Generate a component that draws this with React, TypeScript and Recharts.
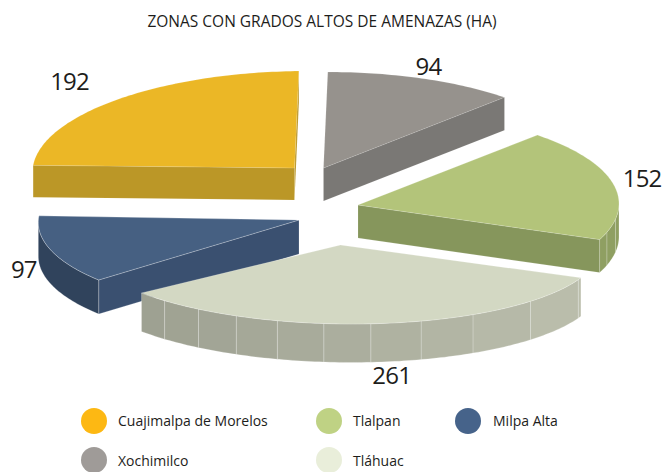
import { PieChart, Pie, Legend } from 'recharts';

const chartTitle = 'ZONAS CON GRADOS ALTOS DE AMENAZAS (HA)';

// slices start at Milpa Alta so that Tláhuac is painted last, on top of it
const zones = ['Milpa Alta', 'Cuajimalpa de Morelos', 'Xochimilco', 'Tlalpan', 'Tláhuac'];
const hectares = [97, 192, 94, 152, 261];
const legendZones = ['Cuajimalpa de Morelos', 'Tlalpan', 'Milpa Alta', 'Xochimilco', 'Tláhuac'];

const data = zones.map((name, i) => ({ name, value: hectares[i] }));

const PIE_START = -139.4;
const SHEAR = 0.04;

// how each slice is pulled out and tilted, plus its colours
const sliceStyle: Record<string, any> = {
  'Cuajimalpa de Morelos': {
    dx: -27.5, dy: -37, rScale: 1, squash: 0.37, tilt: -0.011, depth: 32,
    top: '#EBB726', cut: '#BB9727', rim: ['#BB9727', '#BB9727'], facets: [],
    label: [-48, -18.5], edge: 'rgba(255,255,255,0.2)',
  },
  Xochimilco: {
    dx: 1.5, dy: -37, rScale: 1.004, squash: 0.365, tilt: 0, depth: 33,
    top: '#96928D', cut: '#7A7875', rim: ['#7A7875', '#7A7875'], facets: [],
    label: [5.5, -12.6], edge: 'rgba(255,255,255,0.2)',
  },
  Tlalpan: {
    dx: 36, dy: 0, rScale: 0.996, squash: 0.364, tilt: 0, depth: 33,
    top: '#B3C47A', cut: '#86965C', rim: ['#8F9F62', '#8F9F62'], facets: [-8.6, -16.7],
    label: [29, -6], edge: 'rgba(255,255,255,0.3)',
  },
  'Tláhuac': {
    dx: 18.5, dy: 40, rScale: 0.99, squash: 0.304, tilt: 0.017, depth: 38.5,
    top: '#D3D8C3', cut: '#9EA192', rim: ['#9DA091', '#BCBFAD'],
    facets: [-22.9, -42.2, -58.6, -71.2, -82.6, -93, -103.4, -113, -122.5, -132],
    label: [11, 51], edge: 'rgba(255,255,255,0.35)',
  },
  'Milpa Alta': {
    dx: -23, dy: 15, rScale: 0.995, squash: 0.349, tilt: -0.004, depth: 34,
    top: '#466082', cut: '#3A5070', rim: ['#30435C', '#30435C'], facets: [],
    label: [-27, 18], edge: 'rgba(255,255,255,0.45)',
  },
};

const legendColor: Record<string, string> = {
  'Cuajimalpa de Morelos': '#FDB813',
  Tlalpan: '#BFD284',
  'Milpa Alta': '#46638A',
  Xochimilco: '#9F9B98',
  'Tláhuac': '#E9EEDA',
};

const legendSpot: Record<string, [number, number, number]> = {
  'Cuajimalpa de Morelos': [94, 421, 118],
  Tlalpan: [329, 421, 353],
  'Milpa Alta': [468, 421, 493],
  Xochimilco: [94, 460, 118],
  'Tláhuac': [329, 460, 353],
};

const RAD = Math.PI / 180;

function projector(cx: number, cy: number, radius: number, s: any) {
  const tipX = cx + s.dx;
  const tipY = cy + s.dy;
  const rx = radius * s.rScale;
  const ry = rx * s.squash;
  return (a: number) => ({
    x: tipX + rx * Math.cos(a * RAD) + SHEAR * ry * Math.sin(a * RAD),
    y: tipY - ry * Math.sin(a * RAD) + s.tilt * rx * Math.cos(a * RAD),
  });
}

const toPath = (pts: { x: number; y: number }[]) =>
  pts.map((p, i) => `${i ? 'L' : 'M'}${p.x.toFixed(2)} ${p.y.toFixed(2)}`).join(' ') + ' Z';

const mix = (a: string, b: string, t: number) => {
  const c = (h: string, i: number) => parseInt(h.slice(1 + i * 2, 3 + i * 2), 16);
  const parts = [0, 1, 2].map((i) => Math.round(c(a, i) + (c(b, i) - c(a, i)) * t));
  return `rgb(${parts.join(',')})`;
};

function Slice3D(props: any) {
  const { cx, cy, outerRadius, startAngle, endAngle, name, payload } = props;
  const s = sliceStyle[name ?? payload?.name];
  const at = projector(cx, cy, outerRadius, s);
  const tip = { x: cx + s.dx, y: cy + s.dy };
  const drop = (p: { x: number; y: number }) => ({ x: p.x, y: p.y + s.depth });

  const angles: number[] = [];
  for (let a = startAngle; a > endAngle; a -= 1) angles.push(a);
  angles.push(endAngle);
  const arc = angles.map(at);
  const first = arc[0];
  const last = arc[arc.length - 1];
  const xs = arc.map((p) => p.x);
  const minX = Math.min(...xs);
  const maxX = Math.max(...xs);

  // outer wall, split at the facet lines, only the part facing the viewer
  // (the pie runs past -360 degrees, so facet angles are shifted into the slice's turn)
  const inRange = s.facets
    .flatMap((f: number) => [f, f - 360, f - 720])
    .filter((f: number) => f < startAngle && f > endAngle)
    .sort((a: number, b: number) => b - a);
  const bounds = [startAngle, ...inRange, endAngle];
  const rimWalls: any[] = [];
  for (let b = 0; b < bounds.length - 1; b++) {
    const seg: number[] = [];
    for (let a = bounds[b]; a > bounds[b + 1]; a -= 1) seg.push(a);
    seg.push(bounds[b + 1]);
    const pts = seg.map(at);
    const front = pts.filter((p, i) => {
      const next = pts[i + 1];
      const prev = pts[i - 1];
      return (next && next.x < p.x) || (prev && p.x < prev.x);
    });
    if (front.length < 2) continue;
    const mid = front[Math.floor(front.length / 2)].x;
    const t = maxX > minX ? (mid - minX) / (maxX - minX) : 0;
    rimWalls.push(
      <path
        key={b}
        d={toPath([...front, ...front.slice().reverse().map(drop)])}
        fill={mix(s.rim[0], s.rim[1], t)}
        stroke={s.edge}
        strokeWidth={0.6}
      />
    );
  }

  // straight cut walls, drawn when they face the viewer
  const cuts: any[] = [];
  if (first.x < tip.x) cuts.push([tip, first]);
  if (tip.x < last.x) cuts.push([last, tip]);

  return (
    <g>
      {cuts.map(([p, q], i) => (
        <path key={i} d={toPath([p, q, drop(q), drop(p)])} fill={s.cut} stroke={s.edge} strokeWidth={0.4} />
      ))}
      {rimWalls}
      <path d={toPath([tip, ...arc])} fill={s.top} stroke={s.edge} strokeWidth={0.6} />
    </g>
  );
}

function renderValue(props: any) {
  const { cx, cy, outerRadius, midAngle, name, value } = props;
  const s = sliceStyle[name];
  const p = projector(cx, cy, outerRadius, s)(midAngle);
  return (
    <text
      x={p.x + s.label[0]}
      y={p.y + s.label[1]}
      textAnchor='middle'
      dominantBaseline='central'
      fontFamily='"Open Sans"'
      fontSize={24}
      letterSpacing={-0.8}
      fill='#1d1d1b'
    >
      {value}
    </text>
  );
}

function renderLegend() {
  return (
    <div style={{ position: 'relative', width: 664, height: 472, fontFamily: '"Open Sans"', fontSize: 14, color: '#1d1d1b' }}>
      {legendZones.map((name) => {
        const [dotX, dotY, textX] = legendSpot[name];
        return (
          <div key={name}>
            <div
              style={{
                position: 'absolute',
                left: dotX - 13,
                top: dotY - 13,
                width: 26,
                height: 26,
                borderRadius: 13,
                background: legendColor[name],
              }}
            />
            <div style={{ position: 'absolute', left: textX, top: dotY - (dotY > 440 ? 9 : 10), lineHeight: '20px', whiteSpace: 'nowrap' }}>
              {name}
            </div>
          </div>
        );
      })}
    </div>
  );
}

export default function App() {
  return (
    <div style={{ position: 'absolute', left: 0, top: 0, width: 664, height: 472, background: '#fff', overflow: 'hidden' }}>
      <PieChart width={664} height={472} margin={{ top: 0, right: 0, bottom: 0, left: 0 }}>
        <text x={322} y={21} textAnchor='middle' dominantBaseline='central' fontFamily='"Open Sans"' fontSize={15.5} fill='#1d1d1b'>
          {chartTitle}
        </text>
        <Pie
          data={data}
          dataKey='value'
          nameKey='name'
          cx={322}
          cy={205}
          innerRadius={0}
          outerRadius={262}
          startAngle={PIE_START}
          endAngle={PIE_START - 360}
          paddingAngle={0}
          shape={Slice3D}
          label={renderValue}
          labelLine={false}
          isAnimationActive={false}
        />
        <Legend content={renderLegend} wrapperStyle={{ left: 0, top: 0, width: 664, height: 472, pointerEvents: 'none' }} />
      </PieChart>
    </div>
  );
}
